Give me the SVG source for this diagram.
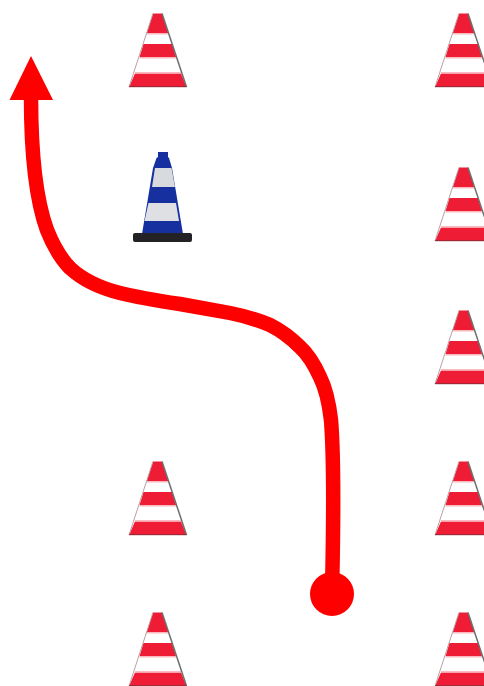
<svg xmlns="http://www.w3.org/2000/svg" width="484" height="686" viewBox="0 0 484 686">
<style>
.conn{fill:none;stroke:#ff0000;stroke-width:14.500}
.head{fill:#ff0000}
.r{fill:#ee1c34}
.w{fill:#ffffff}
.p{fill:#f9b9bf}
.edge{fill:none;stroke:#6e6e6e;stroke-width:1.500}
.edgeL{fill:none;stroke:#b9a0a4;stroke-width:1}
.base{fill:#8f2a36}
</style>
<defs>
<symbol id="cone" width="60" height="75" viewBox="0 0 60 75" overflow="visible">
<polygon class="w" points="24,0 33,0 57.500,73.500 0,73.500"/>
<polygon class="r" points="24,0 33,0 39.500,20 17.500,20"/>
<rect class="p" x="17.500" y="19.500" width="22" height="1.500"/>
<polygon class="r" points="14.500,30.500 43,30.500 47,43.500 10.500,43.500"/>
<rect class="p" x="10.500" y="43.500" width="37" height="1.500"/>
<polygon class="r" points="6,60 52,60 57.500,73.500 0,73.500"/>
<rect class="p" x="6" y="58.500" width="46" height="1.500"/>
<path class="edgeL" d="M24,0 L0,73.500"/>
<path class="edge" d="M33,0 L57.500,73.500"/>
<rect class="base" x="0" y="72.700" width="57.500" height="1"/>
</symbol>
</defs>
<g id="connectors">
<path class="conn" d="M332,594 C333,540 335,470 331,420 C329,403 326,389 320,377 C315,366 309,355 300,347 C292,339 282,331 270,325 C258,320 245,316 230,313 C214,310 197,307 180,304 C160,301 140,298 120,293 C100,288 84,281 70,268 C60,258 53,245 47,230 C36,200 31,150 31,96"/>
<polygon class="head" points="31,56 53,100 9.500,100"/>
<circle class="head" cx="332" cy="594" r="22"/>
</g>
<g id="cone-1"><use href="#cone" x="129" y="13.500"/></g>
<g id="cone-2"><use href="#cone" x="435" y="13.500"/></g>
<g id="cone-3"><use href="#cone" x="435" y="167.500"/></g>
<g id="cone-4"><use href="#cone" x="435" y="310.500"/></g>
<g id="cone-5"><use href="#cone" x="129" y="461.500"/></g>
<g id="cone-6"><use href="#cone" x="435" y="461.500"/></g>
<g id="cone-7"><use href="#cone" x="129" y="612.500"/></g>
<g id="cone-8"><use href="#cone" x="435" y="612.500"/></g>
<g id="blue-cone">
<path d="M158,152 H168 V157 L169,158 L172,168 L183,234 H142 L153,168 L156.500,158 L158,157 Z" fill="#17309f"/>
<polygon points="155,168 171.500,168 175,187 152,187" fill="#d9dade"/>
<polygon points="148.500,203 176,203 179,221 144.500,221" fill="#dfe0e4"/>
<rect x="133" y="233" width="59" height="9" rx="2" fill="#232326"/>
</g>
</svg>
